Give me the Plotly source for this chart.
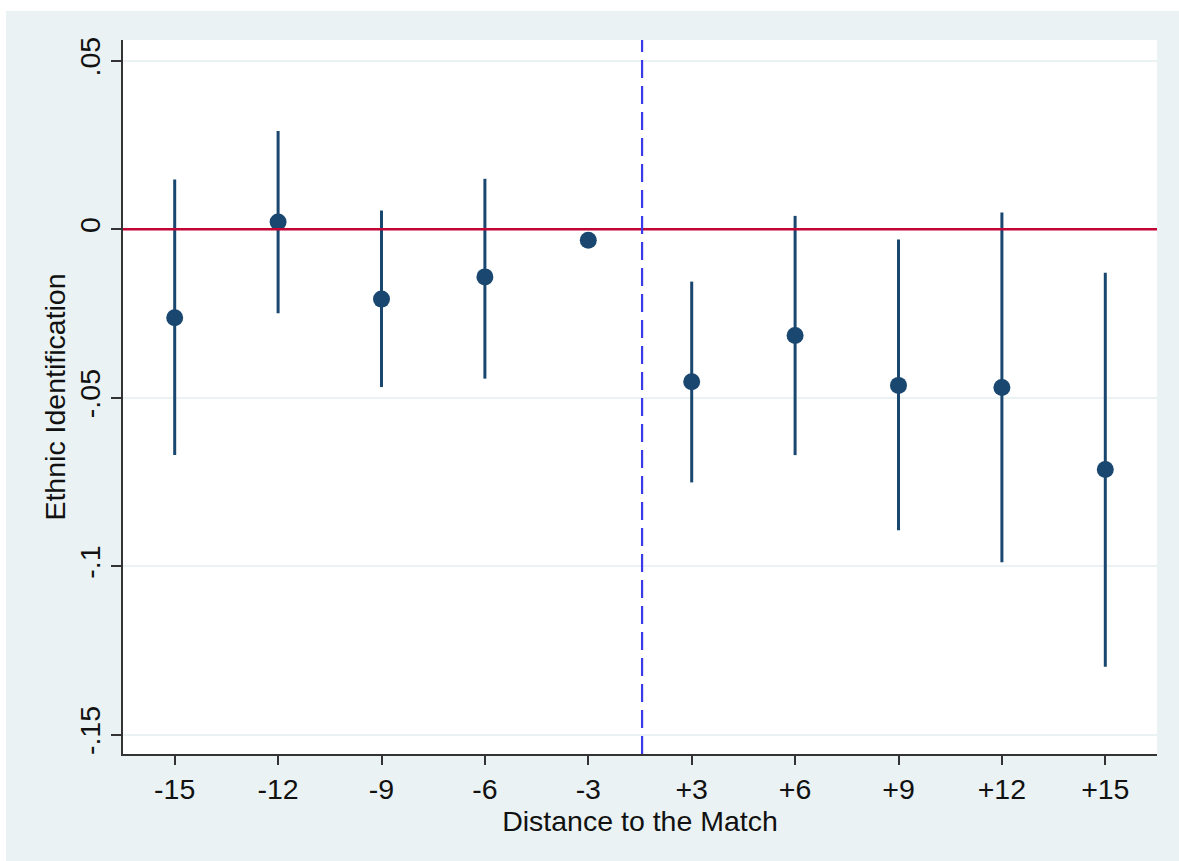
import plotly.graph_objects as go

categories = ["-15", "-12", "-9", "-6", "-3", "+3", "+6", "+9", "+12", "+15"]
estimate = [-0.0262, 0.0022, -0.0207, -0.0141, -0.0032, -0.0452, -0.0315, -0.0463, -0.0469, -0.0713]
ci_upper = [0.0148, 0.0292, 0.0056, 0.0150, -0.0025, -0.0155, 0.0040, -0.0030, 0.0050, -0.0129]
ci_lower = [-0.0670, -0.0249, -0.0468, -0.0443, -0.0039, -0.0751, -0.0670, -0.0893, -0.0988, -0.1298]
y_ticks = [0.05, 0, -0.05, -0.1, -0.15]
y_tick_labels = [".05", "0", "-.05", "-.1", "-.15"]
match_position = 4.52  # between -3 and +3

pos = list(range(len(categories)))
err_plus = [u - e for u, e in zip(ci_upper, estimate)]
err_minus = [e - l for e, l in zip(estimate, ci_lower)]

navy = "#1a476f"
fig = go.Figure()
fig.add_trace(go.Scatter(
    x=pos, y=estimate, mode="markers",
    marker=dict(size=17, color=navy),
    error_y=dict(type="data", symmetric=False, array=err_plus, arrayminus=err_minus,
                 thickness=3, width=0, color=navy),
    showlegend=False,
))

# plot-region geometry (pixels)
W, H = 1179, 861
L, R, T, B = 123, 1157, 40, 754
pw, ph = R - L, B - T

def px(x):
    return (x - L) / pw

def py(y):
    return (B - y) / ph

shapes = [
    dict(type="rect", xref="paper", yref="paper", x0=px(6), x1=px(W + 5), y0=py(H + 5), y1=py(11),
         fillcolor="#EAF2F3", line_width=0, layer="below"),
    dict(type="rect", xref="paper", yref="paper", x0=0, x1=1, y0=0, y1=1,
         fillcolor="white", line_width=0, layer="below"),
    dict(type="line", xref="paper", yref="y", x0=0, x1=1, y0=0, y1=0,
         line=dict(color="#C10534", width=2.5)),
    dict(type="line", xref="x", yref="paper", x0=match_position, x1=match_position, y0=0, y1=1,
         line=dict(color="#3A3AE8", width=2.2, dash="18px,8px")),
]

FS = 28.5
fig.update_layout(
    width=W, height=H,
    margin=dict(l=L, r=W - R, t=T, b=H - B, pad=0),
    paper_bgcolor="white", plot_bgcolor="white",
    font=dict(family="Liberation Sans, Arial, sans-serif", size=FS, color="#111111"),
    shapes=shapes,
    xaxis=dict(
        range=[-0.5, 9.5], tickmode="array", tickvals=pos, ticktext=categories,
        showgrid=False, zeroline=False, showline=True, linecolor="#333333", linewidth=2,
        ticks="outside", ticklen=9, tickwidth=2, tickcolor="#333333",
        tickfont=dict(size=FS),
        title=dict(text="Distance to the Match", font=dict(size=FS), standoff=0),
    ),
    yaxis=dict(
        range=[-0.1557, 0.0562], tickmode="array", tickvals=y_ticks, ticktext=y_tick_labels,
        tickangle=-90, showgrid=True, gridcolor="#EAF2F3", gridwidth=1.5,
        zeroline=False, showline=True, linecolor="#333333", linewidth=2,
        ticks="outside", ticklen=10, tickwidth=2, tickcolor="#333333",
        tickfont=dict(size=FS),
        title=dict(text="Ethnic Identification", font=dict(size=FS), standoff=0),
    ),
)

fig.write_html("out.html")
